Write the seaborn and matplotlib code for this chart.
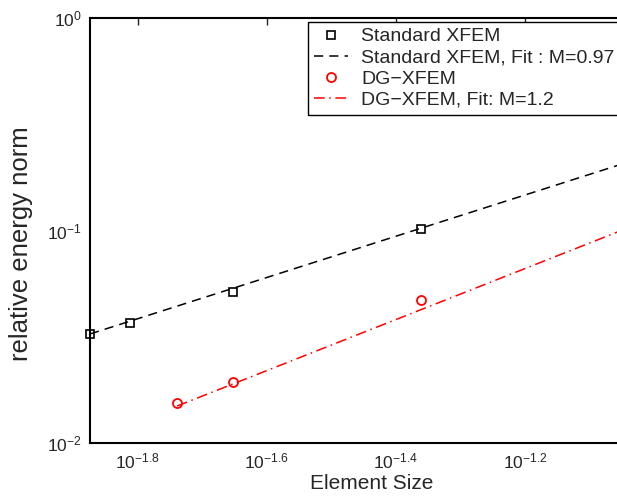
import numpy as np
import pandas as pd
import matplotlib
matplotlib.use("Agg")
import matplotlib.pyplot as plt
import seaborn as sns
from matplotlib.ticker import FixedLocator, FuncFormatter, LogLocator, NullFormatter

# ---- data ----
std_x = [0.01337, 0.01542, 0.02228, 0.04355]
std_y = [0.0326, 0.0367, 0.0514, 0.1016]
std_fit_x = [0.01337, 0.1]
std_fit_y = [0.0326, 0.2296]

dg_x = [0.01824, 0.02228, 0.04355]
dg_y = [0.0154, 0.0194, 0.0471]
dg_fit_x = [0.01824, 0.1]
dg_fit_y = [0.01493, 0.115]

x_tick_exps = [-1.8, -1.6, -1.4, -1.2]
y_tick_exps = [-2, -1, 0]

labels = ["Standard XFEM", "Standard XFEM, Fit : M=0.97", "DG\u2212XFEM", "DG\u2212XFEM, Fit: M=1.2"]

sns.set_style("white")
plt.rcParams["font.family"] = ["Liberation Sans", "DejaVu Sans"]
plt.rcParams["mathtext.fontset"] = "custom"
plt.rcParams["mathtext.rm"] = "Liberation Sans"
plt.rcParams["mathtext.it"] = "Liberation Sans:italic"
plt.rcParams["mathtext.bf"] = "Liberation Sans:bold"

W, H = 617, 504
fig = plt.figure(figsize=(W / 100, H / 100), dpi=100)
left_px, right_px, top_px, bot_px = 90, 654, 18, 443
ax = fig.add_axes([left_px / W, (H - bot_px) / H, (right_px - left_px) / W, (bot_px - top_px) / H])

df_std = pd.DataFrame({"x": std_x, "y": std_y})
df_dg = pd.DataFrame({"x": dg_x, "y": dg_y})
df_sf = pd.DataFrame({"x": std_fit_x, "y": std_fit_y})
df_df = pd.DataFrame({"x": dg_fit_x, "y": dg_fit_y})

sns.lineplot(data=df_std, x="x", y="y", ax=ax, linestyle="", marker="s", markersize=5.5,
             markerfacecolor="none", markeredgecolor="black", markeredgewidth=1.2,
             color="black", label=labels[0])
sns.lineplot(data=df_sf, x="x", y="y", ax=ax, color="black", linewidth=1.1,
             dashes=False, label=labels[1])
sns.lineplot(data=df_dg, x="x", y="y", ax=ax, linestyle="", marker="o", markersize=6.5,
             markerfacecolor="none", markeredgecolor="red", markeredgewidth=1.3,
             color="red", label=labels[2])
sns.lineplot(data=df_df, x="x", y="y", ax=ax, color="red", linewidth=1.1,
             dashes=False, label=labels[3])

lines = ax.get_lines()
lines[1].set_linestyle((0, (6, 4)))
lines[3].set_linestyle((0, (7, 3, 1, 3)))
for ln in lines:
    if ln.get_marker() not in (None, "None", ""):
        ln.set_clip_on(False)

ax.set_xscale("log")
ax.set_yscale("log")
ax.set_xlim(10 ** -1.874, 10 ** -1.0)
ax.set_ylim(1e-2, 1e0)

ax.xaxis.set_major_locator(FixedLocator([10 ** e for e in x_tick_exps]))
ax.xaxis.set_major_formatter(FuncFormatter(lambda v, p: r"$10^{%.1f}$" % np.log10(v)))
ax.xaxis.set_minor_locator(FixedLocator([]))
ax.yaxis.set_major_locator(FixedLocator([10.0 ** e for e in y_tick_exps]))
ax.yaxis.set_major_formatter(FuncFormatter(lambda v, p: r"$10^{%d}$" % round(np.log10(v))))
ax.yaxis.set_minor_locator(LogLocator(base=10, subs=np.arange(2, 10)))
ax.yaxis.set_minor_formatter(NullFormatter())

ax.tick_params(which="both", direction="in", top=True, right=True, labelsize=12.5, pad=6)
ax.tick_params(which="major", length=5, width=1)
ax.tick_params(which="minor", length=3, width=1)
for s in ax.spines.values():
    s.set_linewidth(1.5)
    s.set_color("black")

ax.set_xlabel("Element Size", fontsize=15, labelpad=2)
ax.set_ylabel("relative energy norm", fontsize=18.5)
ax.yaxis.set_label_coords((33 - left_px) / (right_px - left_px), 0.47)

handles, labs = ax.get_legend_handles_labels()
leg = ax.legend(handles, labs, loc="upper left", bbox_to_anchor=(308 / W, 1 - 22 / H),
                bbox_transform=fig.transFigure, fontsize=14, frameon=True, fancybox=False,
                edgecolor="black", framealpha=1, handlelength=1.75, handletextpad=0.7,
                labelspacing=0.18, borderpad=0.3, borderaxespad=0)
leg.get_frame().set_linewidth(1.0)

fig.savefig("out.png", dpi=100)
